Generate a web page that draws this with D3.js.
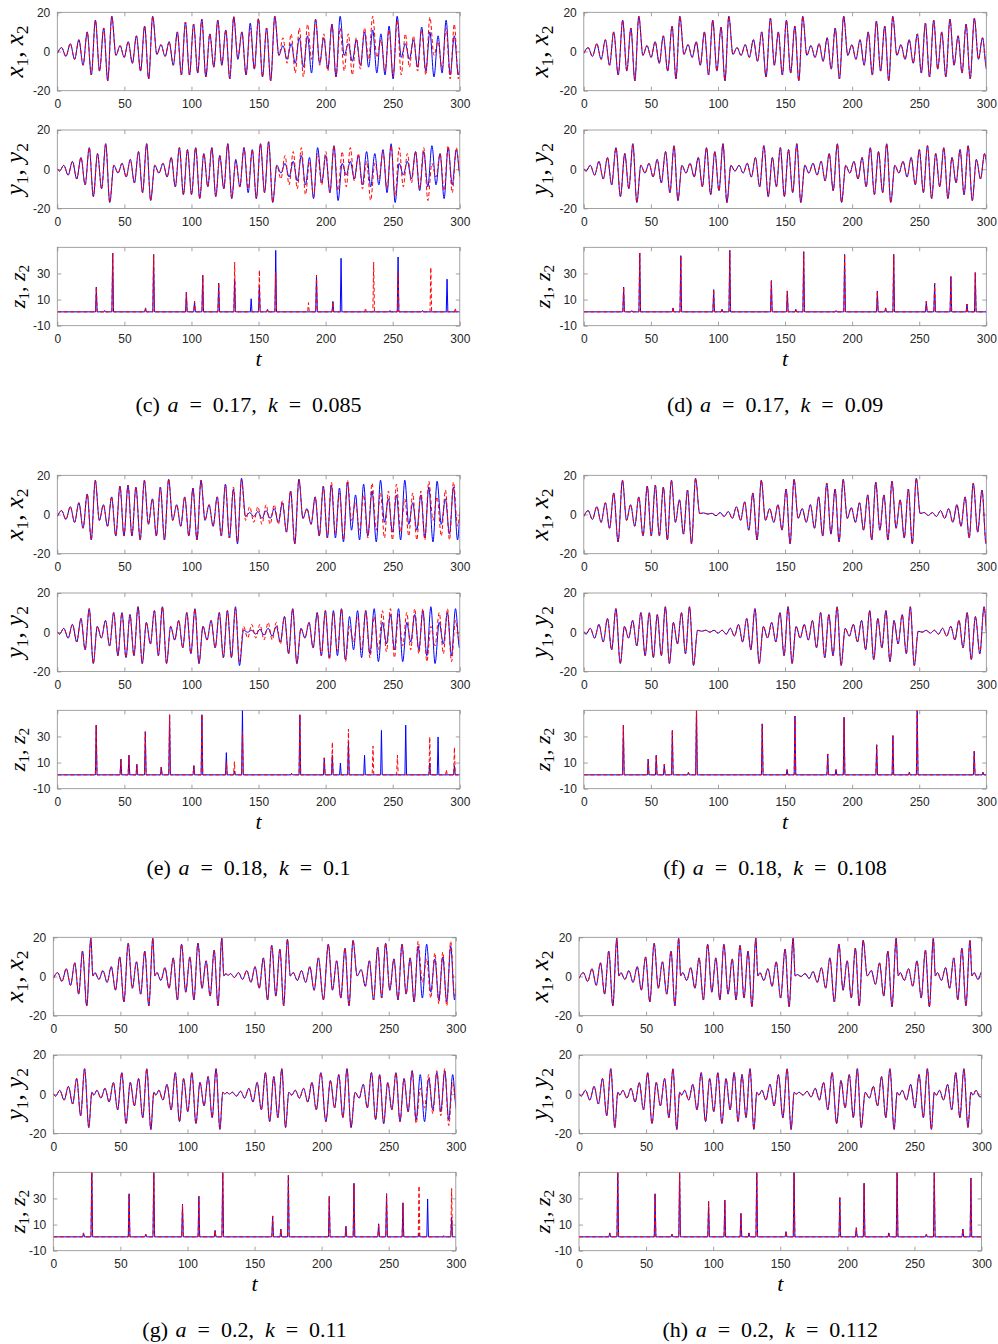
<!DOCTYPE html>
<html>
<head>
<meta charset="utf-8">
<script src="https://cdn.jsdelivr.net/npm/d3@7"></script>
<style>
  body { margin: 0; background: #fff; }
  svg { display: block; }
</style>
</head>
<body>
<svg id="fig" width="998" height="1344"></svg>
<script>
// ---------- tick values and captions ----------
const tTicks = [0, 50, 100, 150, 200, 250, 300];
const xyTicks = [-20, 0, 20];
const zTicks = [-10, 10, 30];
const panelTags = ["c", "d", "e", "f", "g", "h"];
const aValues = ["0.17", "0.17", "0.18", "0.18", "0.2", "0.2"];
const kValues = ["0.085", "0.09", "0.1", "0.108", "0.11", "0.112"];

// ---------- drive system, one row per oscillation ----------
// [t of x maximum, x max, next x min, y min before, y max after, z spike height]
const cyclesC = [
  [3.2, 2, -2.5, -1, 2, 0], [9.7, 4, -4, -3, 4, 0], [16.1, 6, -7, -5, 6, 0], [22.3, 10, -12, -8, 11, 0],
  [28.4, 16, -10, -14, 8, 19], [34.6, 12, -15, -10, 13, 1], [40.6, 18, -2, -17, 2, 45], [46.8, 3, -3, -2, 3, 0],
  [52.9, 5, -6, -4, 5, 0], [59, 8, -10, -7, 9, 0], [65.1, 13, -14, -12, 13, 3], [71.1, 18, -1.5, -16, 2, 44],
  [77.3, 3.5, -2.5, -2, 3, 0], [83.4, 5, -7, -4, 6, 0], [89.5, 10, -12, -9, 11, 0], [95.5, 15, -12, -13, 10, 15],
  [101.6, 14, -11, -13, 11, 8], [107.7, 16.5, -13, -15, 8, 28], [113.7, 9, -8, -9, 11, 0], [119.6, 16, -7, -14, 7, 22],
  [125.6, 11, -14, -10, 13, 0], [131.5, 17.5, -4, -15, 5, 25], [137.6, 10, -12, -9, 11, 0], [143.8, 14.5, -9, -12, 10, 10],
  [149.9, 16.5, -13, -15, 13, 20], [156, 12, -15, -12, 14, 2], [162.1, 18, -2, -17, 2, 47], [168.2, 3, -4, -2, 3, 0],
  [174.3, 4, -6, -4, 4, 0], [180.4, 7, -8, -6, 7, 0], [186.5, 8, -11, -8, 6, 0], [192.5, 16.5, -6, -15, 11, 28],
  [198.6, 7, -9, -7, 7, 0], [204.7, 14, -13, -12, 12, 8], [210.8, 18, -2, -16, 3, 41], [216.9, 4, -5, -3, 4, 0],
  [222.9, 6, -7, -5, 7, 0], [229, 10, -8, -8, 9, 0], [235.1, 11, -11, -9, 8, 0], [241.2, 9, -12, -8, 10, 0],
  [247.3, 13, -14, -12, 13, 1], [253.3, 18, -3, -17, 3, 42], [259.4, 4, -4, -3, 4, 0], [265.5, 6, -8, -5, 9, 0],
  [271.6, 12.5, -10, -11, 9, 1], [277.7, 10, -13, -9, 12, 0], [283.8, 8, -11, -8, 8, 0], [289.8, 16, -12, -15, 11, 25],
  [295.9, 8, -12, -8, 10, 0], [302, 6, -3, -4, 2, 0]
];
const cyclesD = [
  [3.2, 2, -2.5, -1, 2, 0], [9.7, 4, -4, -3, 4, 0], [16.1, 6, -7, -5, 6, 0], [22.3, 10, -12, -8, 11, 0],
  [29, 16, -10, -14, 8, 19], [35.1, 12, -15, -10, 13, 1], [41, 18, -2, -17, 2, 45], [47.1, 3, -3, -2, 3, 0],
  [53.2, 5, -6, -4, 5, 0], [59.3, 8, -10, -7, 9, 0], [65.8, 13, -14, -12, 12, 3], [71.6, 18, -1.5, -16, 2, 43],
  [77.7, 3.5, -3, -2, 3, 0], [83.8, 5, -7, -4, 6, 0], [89.9, 10, -12, -9, 11, 0], [96.1, 16, -10, -13, 9, 17],
  [102.3, 12.5, -15, -11, 13, 2], [108.1, 18, -1.5, -17, 2, 47], [114.2, 2, -2, -1, 2, 0], [120.3, 3.5, -3, -2, 3, 0],
  [126.4, 6, -5, -4, 6, 0], [132.6, 10, -13, -9, 12, 0], [139.1, 17, -7, -14, 6, 24], [145, 10, -12, -9, 11, 0],
  [151, 16, -11, -14, 10, 16], [157.3, 13, -15, -12, 13, 2], [163.2, 18, -2, -17, 2, 46], [169.3, 3, -3, -2, 3, 0],
  [175.4, 4, -5, -3, 4, 0], [181.4, 7, -9, -6, 8, 0], [187.4, 12, -14, -11, 13, 1], [193.7, 18, -2, -17, 2, 44],
  [199.8, 3.5, -4, -2, 4, 0], [205.9, 6, -7, -5, 6, 0], [212, 10, -12, -9, 11, 0], [218.1, 15.5, -10, -13, 9, 16],
  [224.3, 13, -15, -12, 13, 3], [230.3, 18, -2, -17, 2, 44], [236.4, 3.5, -4, -2, 4, 0], [242.5, 6, -6, -4, 6, 0],
  [248.6, 9, -11, -8, 10, 0], [254.6, 14.5, -13, -12, 12, 8], [260.8, 16, -9, -15, 8, 22], [266.8, 10, -13, -9, 11, 0],
  [272.9, 16.5, -7, -15, 6, 27], [279, 8, -11, -7, 10, 0], [284.9, 14, -14, -13, 12, 6], [291.1, 17, -4, -16, 5, 30],
  [297.2, 7, -9, -5, 8, 0], [303.3, 5, -2, -3, 1, 0]
];
const cyclesE = [
  [3.2, 2, -2.5, -1, 2, 0], [9.7, 4, -4, -3, 4, 0], [16.1, 6, -7, -5, 7, 0], [22.3, 10.5, -13, -9, 12, 0],
  [28.3, 17.5, -3, -16, 3, 38], [34.4, 5, -6, -3, 6, 0], [40.5, 9, -11, -7, 10, 0], [46.7, 14.5, -11, -12, 10, 12],
  [52.7, 15, -11, -13, 9, 15], [58.6, 14, -13, -12, 13, 8], [64.9, 17.5, -5, -16, 5, 33], [70.9, 8, -11, -6, 11, 0],
  [76.8, 14, -13, -12, 13, 6], [83, 18, -3, -16, 3, 46], [89, 5, -6, -4, 6, 0], [95, 9, -11, -8, 10, 0],
  [101.1, 13.5, -13, -11, 12, 7], [107.1, 17.5, -3, -16, 3, 46], [113.1, 5, -6, -4, 6, 0], [119.2, 9, -11, -8, 10, 0],
  [125.3, 15.5, -12, -13, 11, 17], [131.3, 13, -15, -13, 13, 3], [137.3, 18.5, -1, -17, 1, 50], [143.4, 1, -1, 0, 1, 0],
  [149.5, 1.5, -2, -1, 1.5, 0], [155.6, 2, -2, -1.5, 2, 0], [161.7, 3, -4, -2, 3, 0], [167.8, 6, -9, -5, 8, 0],
  [173.9, 12, -15, -11, 12, 1], [180.1, 18, -2, -16, 2, 46], [186.1, 3, -5, -3, 5, 0], [192.2, 9, -11, -8, 10, 0],
  [198.3, 14.5, -12, -12, 11, 13], [204.3, 15, -12, -13, 11, 15], [210.3, 13.5, -14, -12, 12, 9], [216.3, 16.5, -8, -14, 8, 25],
  [222.3, 10, -13, -9, 11, 0], [228.3, 15.5, -11, -13, 11, 15], [234.6, 12, -14, -11, 12, 0], [240.9, 17.5, -4, -15, 5, 34],
  [246.8, 8, -9, -6, 9, 0], [252.8, 10, -13, -9, 12, 0], [259, 17.5, -5, -15, 5, 38], [264.9, 6, -8, -5, 9, 0],
  [271, 10, -12, -9, 11, 0], [276.9, 14, -14, -12, 13, 9], [283.1, 17, -5, -16, 5, 29], [289.3, 8, -10, -6, 10, 0],
  [295.3, 14, -13, -12, 12, 7], [301.3, 9, -3, -8, 2, 0]
];
const cyclesF = [
  [3.2, 2, -2.5, -1, 2, 0], [9.7, 4, -4, -3, 4, 0], [16.1, 6, -7, -5, 7, 0], [22.3, 11, -14, -9, 12, 0],
  [28.8, 17.5, -3, -16, 3, 38], [34.9, 5, -6, -3, 6, 0], [41, 9, -11, -7, 10, 0], [47.3, 14.5, -11, -12, 10, 12],
  [53.3, 15, -11, -13, 9, 15], [59.3, 14, -13, -12, 13, 8], [65.3, 17.5, -4, -16, 5, 34], [71.3, 7.5, -10, -6, 10, 0],
  [77.3, 12.5, -15, -11, 13, 2], [83.3, 18.5, 0.5, -17, 1, 52], [89.4, 0.8, 0.2, 0.5, 1, 0], [95.5, 0.6, -0.6, 0, 1, 0],
  [101.6, 1, -1, -0.5, 1, 0], [107.7, 1.5, -2, -1, 2, 0], [113.8, 4, -3, -2, 4, 0], [119.9, 6.5, -8, -5, 7, 0],
  [126, 11, -13, -9, 12, 0], [132.3, 17.5, -3, -16, 3, 39], [138.5, 3, -4, -3, 5, 0], [144.7, 5, -8, -5, 10, 0],
  [150.8, 13, -15, -12, 13, 4], [156.7, 18, -2, -16, 3, 45], [162.8, 3, -4, -3, 4, 0], [168.9, 5, -7, -4, 6, 0],
  [175, 9, -11, -8, 10, 0], [181.1, 16, -10, -13, 9, 16], [187.3, 13, -14, -12, 13, 4], [193.3, 18, -2, -17, 2, 44],
  [199.4, 3.5, -4, -2, 4, 0], [205.5, 6, -8, -5, 6, 0], [211.6, 10, -13, -9, 11, 0], [217.6, 16.5, -8, -14, 7, 23],
  [223.7, 10, -13, -8, 11, 0], [229.7, 17, -7, -15, 6, 30], [235.8, 7.5, -12, -6, 9, 0], [241.9, 13, -15, -11, 13, 2],
  [247.8, 18.5, 0.5, -17, 0.5, 52], [253.7, 1, -0.5, 0, 1, 0], [259.8, 1, -1, -0.5, 1, 0], [265.9, 2, -2, -1, 2, 0],
  [272, 3, -4, -2, 3, 0], [278.1, 5, -6, -4, 6, 0], [284.2, 9, -12, -8, 10, 0], [290.3, 16, -9, -14, 8, 18],
  [296.8, 12.5, -15, -11, 13, 2], [302.9, 5, -3, -8, 2, 0]
];
const cyclesG = [
  [3.2, 2, -2.5, -1, 2, 0], [9.7, 4, -4.5, -3, 4, 0], [16, 7, -9, -5, 8, 0], [21.8, 13, -15, -11, 13, 3],
  [28, 19.5, 0.3, -17, 1, 52], [31, 2, -1.5, -0.5, 2, 0], [37, 3, -3, -2, 3, 0], [43.2, 5, -7, -4, 6, 0],
  [49.5, 10, -13, -8, 11, 0], [55.8, 17, -6, -15, 6, 33], [62, 7.5, -9, -6, 8, 0], [68.2, 13, -15, -12, 13, 2],
  [74.2, 19.5, 0.3, -18, 1, 52], [77.2, 2, -2, -0.5, 2, 0], [83.2, 4.5, -6, -3, 5, 0], [89.4, 9.5, -12, -8, 11, 0],
  [95.6, 16.5, -8, -14, 8, 25], [101.8, 10, -12, -9, 11, 0], [107.8, 17, -6, -15, 6, 31], [113.9, 8, -10, -6, 9, 0],
  [119.9, 13.5, -15, -12, 13, 5], [125.6, 19.5, 0.3, -18, 1, 52], [128.6, 1.5, 0.5, 0, 1, 0], [132, 1.5, -0.5, 0, 1, 0],
  [138, 2, -1.5, -1, 1.5, 0], [144.2, 3, -3, -2, 3, 0], [150.4, 5, -6, -4, 6, 0], [156.6, 9.5, -12, -8, 11, 0],
  [162.8, 16, -10, -14, 9, 16], [168.9, 14, -15, -12, 13, 6], [174.5, 19, 0.3, -17, 1, 47], [178.8, 2, -2, -0.5, 2, 0],
  [185, 3, -3, -2, 3, 0], [191.2, 5, -7, -4, 6, 0], [197.6, 9.5, -12, -8, 11, 0], [205, 16.5, -7, -14, 7, 31],
  [211.2, 8, -11, -7, 10, 0], [217.4, 14.5, -15, -12, 13, 8], [223.4, 18.5, 0.3, -17, 1, 41], [229.5, 3.5, -5, -2, 5, 0],
  [235.6, 8, -12, -7, 11, 0], [241.8, 15, -11, -13, 10, 10], [247.7, 17, -7, -15, 6, 33], [253.9, 9, -12, -8, 11, 0],
  [259.9, 16.5, -9, -14, 8, 26], [266, 9.5, -13, -9, 12, 0], [271.9, 15.5, -11, -13, 10, 3], [278.3, 16.5, -8, -14, 8, 29],
  [284.4, 9, -12, -8, 11, 0], [290.3, 10, -13, -9, 12, 0], [296.2, 15.5, -12, -13, 10, 15], [302, 8, -3, -8, 2, 0]
];
const cyclesH = [
  [3.2, 2, -2.5, -1, 2, 0], [9.7, 4, -4.5, -3, 4, 0], [16, 7, -9, -5, 8, 0], [22.2, 13, -15, -11, 13, 3],
  [28.2, 19.5, 0.3, -17, 1, 52], [31.2, 2, -1.5, -0.5, 2, 0], [37.2, 3, -3, -2, 3, 0], [43.4, 5, -7, -4, 6, 0],
  [49.6, 10, -13, -8, 11, 0], [56, 17, -6, -15, 6, 33], [62.2, 7.5, -9, -6, 8, 0], [68.6, 13, -15, -12, 13, 2],
  [74.3, 19.5, 0.3, -18, 1, 52], [77.3, 2, -2, -0.5, 2, 0], [83.3, 4.5, -6, -3, 5, 0], [89.5, 9.5, -12, -8, 11, 0],
  [95.9, 16.5, -8, -14, 8, 27], [102, 9.5, -12, -9, 11, 0], [108, 16.5, -9, -15, 8, 28], [114.2, 9, -12, -8, 11, 0],
  [120, 16, -11, -14, 10, 18], [126, 13, -15.5, -12, 13, 3], [131.8, 19.5, 0.3, -18, 1, 52], [134.8, 2, -2, -0.5, 2, 0],
  [140.8, 4, -5, -3, 5, 0], [147, 7.5, -11, -6, 10, 0], [153.6, 14, -15.5, -12, 13, 4], [159.6, 19.5, 0.3, -18, 1, 52],
  [162.6, 1, 0, 0, 1, 0], [168.5, 1.5, -1, -0.5, 1.5, 0], [174.5, 2.5, -3, -1.5, 3, 0], [180.7, 4.5, -6, -3, 6, 0],
  [187, 9.5, -13, -8, 11, 0], [193.7, 16.5, -7, -15, 7, 30], [199.9, 8, -11, -7, 10, 0], [206, 14.5, -15, -12, 13, 7],
  [211.8, 18.5, 0.3, -17, 1, 41], [217.9, 3, -4, -2, 4, 0], [224, 7, -10, -6, 9, 0], [230.2, 13, -15.5, -12, 13, 3],
  [236.4, 19.5, 0.3, -18, 1, 52], [239.4, 2, -2, -0.5, 2, 0], [245.6, 4, -5, -3, 5, 0], [251.9, 8, -11, -7, 10, 0],
  [258.2, 13.5, -15.5, -12, 13, 2], [264.1, 19.5, 0.3, -18, 1, 52], [267.1, 2, -2, -0.5, 2, 0], [273.2, 4.5, -6, -3, 5, 0],
  [279.3, 9.5, -12, -8, 11, 0], [285.4, 14.5, -15, -12, 13, 6], [291.4, 18.5, 0.3, -17, 1, 45], [294.4, 2, -1.5, -0.5, 2, 0],
  [300.4, 2.5, -1, -1.5, 1, 0]
];

// ---------- response system where it departs from the drive ----------
// [cycle index, x max, next x min, y min before, y max after, z spike height]
const redC = [
  [21, 18, -3, -15, 4, 38], [23, 12, -9, -10, 10, 0], [24, 17, -13, -15, 13, 32], [26, 18, -2, -17, 2, 30],
  [27, 7, -6, -5, 7, 0], [28, 9, -11, -8, 9, 0], [29, 12, -13, -10, 11, 0], [30, 14, -4, -13, 4, 7],
  [31, 16, -7, -14, 8, 28], [32, 9, -10, -8, 9, 0], [34, 12, -10, -11, 9, 0], [35, 9, -12, -9, 11, 0],
  [36, 7, -9, -6, 8, 0], [37, 12, -4, -10, 4, 3], [38, 18, -3, -16, 3, 38], [39, 6, -10, -5, 9, 0],
  [40, 11, -13, -10, 12, 0], [41, 16, -12, -14, 11, 30], [42, 9, -8, -9, 8, 0], [43, 8, -10, -7, 9, 0],
  [44, 11, -12, -10, 11, 0], [45, 17.5, -2, -16, 3, 34], [46, 5, -9, -4, 8, 0], [47, 12, -14, -11, 12, 0],
  [48, 14, -14, -12, 11, 3], [49, 6, -3, -4, 2, 0]
];
const redD = [];
const redE = [
  [20, 15, -12, -13, 11, 10], [21, 14, -14, -13, 12, 10], [22, 17.5, -3, -15, 3, 33], [23, 4, -4, -3, 4, 0],
  [24, 4, -5, -3, 4, 0], [25, 5, -5, -4, 5, 0], [26, 5, -5, -4, 5, 0], [27, 7, -9, -6, 8, 0],
  [33, 16.5, -10, -14, 10, 25], [34, 11, -13, -10, 12, 0], [35, 17.5, -3, -15, 3, 35], [36, 6, -8, -5, 8, 0],
  [37, 10, -12, -9, 11, 0], [38, 16, -8, -13, 8, 22], [39, 11, -12, -9, 11, 0], [40, 12, -13, -10, 12, 0],
  [41, 15.5, -9, -13, 9, 15], [42, 8, -11, -7, 10, 0], [43, 11, -13, -9, 12, 0], [44, 12, -13, -11, 12, 1],
  [45, 17, -3, -15, 3, 29], [46, 9, -11, -7, 10, 0], [47, 12.5, -13, -11, 12, 4], [48, 16.5, -6, -15, 6, 21],
  [49, 6, -3, -5, 2, 0]
];
const redF = [];
const redG = [
  [46, 18, -3, -15, 3, 39], [47, 9, -11, -7, 10, 0], [48, 12, -14, -10, 12, 0], [49, 12.5, -15, -11, 13, 1],
  [50, 18, -10, -16, 6, 37], [51, 6, -3, -6, 2, 0]
];
const redH = [];

const driveCycles = [cyclesC, cyclesD, cyclesE, cyclesF, cyclesG, cyclesH];
const responseChanges = [redC, redD, redE, redF, redG, redH];

// ---------- layout ----------
const svg = d3.select("#fig");
const plotW = 402.5, plotH = 78.4;
const rowTop = [12.3, 475.3, 937.3];
const subTop = [0, 117.7, 235];
const colLeft = [[57.3, 583.8], [57.3, 583.8], [53.3, 579]];
const yLabelX = [23, 548];
const zLabelX = [25, 550];
const frameColor = "#8a8a8a";
const tickTextColor = "#262626";
const serif = "'Liberation Serif', 'Times New Roman', Times, serif";

// ---------- turning per-oscillation rows into curve vertices ----------
function xSeries(cyc) {
  const pts = [[0, -1]];
  cyc.forEach((r, k) => {
    const tNext = k < cyc.length - 1 ? cyc[k + 1][0] : r[0] + 6.1;
    pts.push([r[0], r[1]], [(r[0] + tNext) / 2, r[2]]);
  });
  return pts;
}
function ySeries(cyc) {
  const pts = [[0, 0.3]];
  cyc.forEach((r, k) => {
    const qPrev = k > 0 ? (r[0] - cyc[k - 1][0]) / 4 : 1.5;
    const qNext = k < cyc.length - 1 ? (cyc[k + 1][0] - r[0]) / 4 : 1.5;
    pts.push([r[0] - qPrev, r[3]], [r[0] + qNext, r[4]]);
  });
  return pts;
}
function zSeries(cyc) {
  const base = 0.6;
  const pts = [[0, base]];
  cyc.forEach(r => {
    if (r[5] > 0) pts.push([r[0] + 0.1, base], [r[0] + 0.7, base + r[5]], [r[0] + 1.3, base]);
  });
  pts.push([300, base]);
  return pts;
}

function axisLabel(g, x, y, letter, size) {
  const t = g.append("text")
    .attr("transform", `translate(${x},${y}) rotate(-90)`)
    .attr("text-anchor", "middle")
    .attr("font-family", serif)
    .attr("font-size", size)
    .attr("fill", "#000");
  t.append("tspan").attr("font-style", "italic").text(letter);
  t.append("tspan").attr("font-size", size * 0.7).attr("dy", size * 0.2).text("1");
  t.append("tspan").attr("dy", -size * 0.2).text(",");
  t.append("tspan").attr("font-style", "italic").attr("dx", size * 0.25).text(letter);
  t.append("tspan").attr("font-size", size * 0.7).attr("dy", size * 0.2).text("2");
}

function styleAxis(sel, withText) {
  sel.select(".domain").remove();
  sel.selectAll(".tick line").attr("stroke", frameColor).attr("stroke-width", 0.8);
  sel.selectAll(".tick text")
    .attr("font-family", "'Liberation Sans', Arial, Helvetica, sans-serif")
    .attr("font-size", 12)
    .attr("fill", tickTextColor);
  if (!withText) sel.selectAll(".tick text").remove();
}

let clipId = 0;
function subplot(g, left, top, domainY, yTicks, blueData, redData, curve, letter, labelX, labelSize) {
  const xs = d3.scaleLinear().domain([0, 300]).range([left, left + plotW]);
  const ys = d3.scaleLinear().domain(domainY).range([top + plotH, top]);
  const fmt = d => String(d);

  g.append("g").attr("transform", `translate(0,${top + plotH})`)
    .call(d3.axisBottom(xs).tickValues(tTicks).tickSizeInner(-4).tickSizeOuter(0).tickPadding(9).tickFormat(fmt))
    .call(s => styleAxis(s, true));
  g.append("g").attr("transform", `translate(0,${top})`)
    .call(d3.axisTop(xs).tickValues(tTicks).tickSizeInner(-4).tickSizeOuter(0))
    .call(s => styleAxis(s, false));
  g.append("g").attr("transform", `translate(${left},0)`)
    .call(d3.axisLeft(ys).tickValues(yTicks).tickSizeInner(-4).tickSizeOuter(0).tickPadding(7).tickFormat(fmt))
    .call(s => styleAxis(s, true));
  g.append("g").attr("transform", `translate(${left + plotW},0)`)
    .call(d3.axisRight(ys).tickValues(yTicks).tickSizeInner(-4).tickSizeOuter(0))
    .call(s => styleAxis(s, false));

  const id = "clip" + (clipId++);
  svg.append("defs").append("clipPath").attr("id", id)
    .append("rect").attr("x", left).attr("y", top).attr("width", plotW).attr("height", plotH);

  const line = d3.line().x(d => xs(d[0])).y(d => ys(d[1])).curve(curve);
  const lines = g.append("g").attr("clip-path", `url(#${id})`);
  lines.append("path").datum(blueData).attr("d", line)
    .attr("fill", "none").attr("stroke", "#0000ff").attr("stroke-width", 1).attr("stroke-linejoin", "round");
  lines.append("path").datum(redData).attr("d", line)
    .attr("fill", "none").attr("stroke", "#ff0000").attr("stroke-width", 1)
    .attr("stroke-dasharray", "4,2.5").attr("stroke-linejoin", "round");

  g.append("rect").attr("x", left).attr("y", top).attr("width", plotW).attr("height", plotH)
    .attr("fill", "none").attr("stroke", frameColor).attr("stroke-width", 0.8);

  axisLabel(g, labelX, top + plotH / 2, letter, labelSize);
}

driveCycles.forEach((cyc, i) => {
  const row = Math.floor(i / 2), col = i % 2;
  const left = colLeft[row][col];
  const g = svg.append("g");

  const resp = cyc.map(r => r.slice());
  responseChanges[i].forEach(o => { resp[o[0]] = [cyc[o[0]][0]].concat(o.slice(1)); });

  const top0 = rowTop[row] + subTop[0];
  const top1 = rowTop[row] + subTop[1];
  const top2 = rowTop[row] + subTop[2];

  subplot(g, left, top0, [-20, 20], xyTicks, xSeries(cyc), xSeries(resp), d3.curveMonotoneX, "x", yLabelX[col], 25);
  subplot(g, left, top1, [-20, 20], xyTicks, ySeries(cyc), ySeries(resp), d3.curveMonotoneX, "y", yLabelX[col], 25);
  subplot(g, left, top2, [-10, 50], zTicks, zSeries(cyc), zSeries(resp), d3.curveLinear, "z", zLabelX[col], 22);

  const zBottom = top2 + plotH;
  const cx = left + plotW / 2;

  g.append("text").attr("x", cx).attr("y", zBottom + 40)
    .attr("text-anchor", "middle")
    .attr("font-family", serif)
    .attr("font-style", "italic").attr("font-size", 22).text("t");

  // caption: "(c)  a = 0.17,  k = 0.085" with math-style spacing round the equals signs
  const cap = g.append("text").attr("x", cx - 10).attr("y", zBottom + 86.3)
    .attr("text-anchor", "middle")
    .attr("font-family", serif)
    .attr("font-size", 22).attr("fill", "#000");
  cap.append("tspan").text(`(${panelTags[i]}) `);
  cap.append("tspan").attr("dx", 2).attr("font-style", "italic").text("a");
  cap.append("tspan").text(`\u2002=\u2002${aValues[i]},\u2002`);
  cap.append("tspan").attr("font-style", "italic").text("k");
  cap.append("tspan").text(`\u2002=\u2002${kValues[i]}`);
});
</script>
</body>
</html>
